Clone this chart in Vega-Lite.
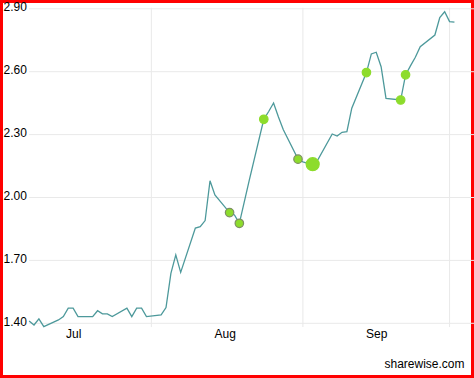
{
  "$schema": "https://vega.github.io/schema/vega-lite/v6.json",
  "width": 474,
  "height": 378,
  "autosize": {"type": "none"},
  "padding": 0,
  "background": "white",
  "config": {
    "view": {"stroke": "#ff0000", "strokeWidth": 6},
    "font": "Liberation Sans",
    "axis": {"grid": false, "ticks": false, "tickSize": 0, "domain": false, "labelFontSize": 12, "labelColor": "#000000", "labelOverlap": false, "labelFlush": false, "titleFontSize": 12, "titleFontWeight": "normal", "titleColor": "#000000"},
    "axisX": {"labelExpr": "utcFormat(datum.value, '%b')"}
  },
  "datasets": {
    "prices": [
      {"date": "2009-07-07", "price": 1.411},
      {"date": "2009-07-08", "price": 1.392},
      {"date": "2009-07-09", "price": 1.421},
      {"date": "2009-07-10", "price": 1.384},
      {"date": "2009-07-13", "price": 1.416},
      {"date": "2009-07-14", "price": 1.432},
      {"date": "2009-07-15", "price": 1.472},
      {"date": "2009-07-16", "price": 1.472},
      {"date": "2009-07-17", "price": 1.432},
      {"date": "2009-07-20", "price": 1.432},
      {"date": "2009-07-21", "price": 1.460},
      {"date": "2009-07-22", "price": 1.445},
      {"date": "2009-07-23", "price": 1.445},
      {"date": "2009-07-24", "price": 1.432},
      {"date": "2009-07-27", "price": 1.472},
      {"date": "2009-07-28", "price": 1.432},
      {"date": "2009-07-29", "price": 1.472},
      {"date": "2009-07-30", "price": 1.472},
      {"date": "2009-07-31", "price": 1.432},
      {"date": "2009-08-03", "price": 1.440},
      {"date": "2009-08-04", "price": 1.475},
      {"date": "2009-08-05", "price": 1.638},
      {"date": "2009-08-06", "price": 1.726},
      {"date": "2009-08-07", "price": 1.643},
      {"date": "2009-08-10", "price": 1.854},
      {"date": "2009-08-11", "price": 1.861},
      {"date": "2009-08-12", "price": 1.890},
      {"date": "2009-08-13", "price": 2.080},
      {"date": "2009-08-14", "price": 2.012},
      {"date": "2009-08-17", "price": 1.928},
      {"date": "2009-08-18", "price": 1.917},
      {"date": "2009-08-19", "price": 1.877},
      {"date": "2009-08-20", "price": 1.978},
      {"date": "2009-08-21", "price": 2.079},
      {"date": "2009-08-24", "price": 2.373},
      {"date": "2009-08-25", "price": 2.410},
      {"date": "2009-08-26", "price": 2.451},
      {"date": "2009-08-27", "price": 2.384},
      {"date": "2009-08-28", "price": 2.323},
      {"date": "2009-08-31", "price": 2.183},
      {"date": "2009-09-01", "price": 2.170},
      {"date": "2009-09-02", "price": 2.163},
      {"date": "2009-09-03", "price": 2.159},
      {"date": "2009-09-04", "price": 2.177},
      {"date": "2009-09-07", "price": 2.303},
      {"date": "2009-09-08", "price": 2.293},
      {"date": "2009-09-09", "price": 2.311},
      {"date": "2009-09-10", "price": 2.314},
      {"date": "2009-09-11", "price": 2.426},
      {"date": "2009-09-14", "price": 2.596},
      {"date": "2009-09-15", "price": 2.685},
      {"date": "2009-09-16", "price": 2.693},
      {"date": "2009-09-17", "price": 2.624},
      {"date": "2009-09-18", "price": 2.473},
      {"date": "2009-09-21", "price": 2.465},
      {"date": "2009-09-22", "price": 2.585},
      {"date": "2009-09-23", "price": 2.628},
      {"date": "2009-09-24", "price": 2.669},
      {"date": "2009-09-25", "price": 2.719},
      {"date": "2009-09-28", "price": 2.775},
      {"date": "2009-09-29", "price": 2.858},
      {"date": "2009-09-30", "price": 2.886},
      {"date": "2009-10-01", "price": 2.839},
      {"date": "2009-10-02", "price": 2.836}
    ],
    "signals": [
      {"date": "2009-08-17", "price": 1.928, "kind": "outlined", "weight": 1},
      {"date": "2009-08-19", "price": 1.877, "kind": "outlined", "weight": 1},
      {"date": "2009-08-24", "price": 2.373, "kind": "plain", "weight": 1},
      {"date": "2009-08-31", "price": 2.183, "kind": "outlined", "weight": 1},
      {"date": "2009-09-03", "price": 2.159, "kind": "plain", "weight": 2},
      {"date": "2009-09-14", "price": 2.596, "kind": "plain", "weight": 1},
      {"date": "2009-09-21", "price": 2.465, "kind": "plain", "weight": 1},
      {"date": "2009-09-22", "price": 2.585, "kind": "plain", "weight": 1}
    ],
    "yticks": [{"tick": 1.4}, {"tick": 1.7}, {"tick": 2.0}, {"tick": 2.3}, {"tick": 2.6}, {"tick": 2.9}],
    "months": [{"date": "2009-08-01"}, {"date": "2009-09-01"}, {"date": "2009-10-01"}]
  },
  "layer": [
    {
      "data": {"name": "yticks"},
      "mark": {"type": "rule", "color": "#e9e9e9", "strokeWidth": 1},
      "encoding": {
        "y": {
          "field": "tick",
          "type": "quantitative",
          "scale": {"domain": [1.1391, 2.942], "nice": false, "zero": false},
          "axis": {
            "orient": "left",
            "values": [1.4, 1.7, 2.0, 2.3, 2.6, 2.9],
            "format": ".2f",
            "labelAlign": "left",
            "labelBaseline": "alphabetic",
            "labelPadding": -3,
            "labelOffset": 2,
            "title": null
          }
        },
        "x": {
          "datum": {"year": 2009, "month": 7, "date": 7, "utc": true},
          "type": "temporal",
          "scale": {
            "type": "utc",
            "nice": false,
            "domain": [
              {"year": 2009, "month": 7, "date": 1, "hours": 1, "utc": true},
              {"year": 2009, "month": 10, "date": 6, "utc": true}
            ]
          },
          "axis": {
            "orient": "bottom",
            "offset": -51,
            "values": [
              {"year": 2009, "month": 7, "date": 16, "utc": true},
              {"year": 2009, "month": 8, "date": 16, "utc": true},
              {"year": 2009, "month": 9, "date": 16, "utc": true}
            ],
            "labelExpr": "utcFormat(datum.value, '%b')",
            "labelPadding": 1,
            "title": "sharewise.com",
            "titleAlign": "right",
            "titleAnchor": "end",
            "titleBaseline": "alphabetic",
            "titleX": 464,
            "titleY": 40
          }
        },
        "x2": {"datum": {"year": 2009, "month": 10, "date": 6, "utc": true}}
      }
    },
    {
      "data": {"name": "months"},
      "mark": {"type": "rule", "color": "#e9e9e9", "strokeWidth": 1},
      "encoding": {
        "x": {"field": "date", "type": "temporal"},
        "y": {"datum": 2.905, "type": "quantitative"},
        "y2": {"datum": 1.382}
      }
    },
    {
      "data": {"name": "prices"},
      "mark": {"type": "line", "color": "#4d999b", "strokeWidth": 1.3},
      "encoding": {
        "x": {"field": "date", "type": "temporal"},
        "y": {"field": "price", "type": "quantitative"}
      }
    },
    {
      "data": {"name": "signals"},
      "mark": {"type": "circle", "opacity": 1, "fill": "#8ddc2c", "strokeWidth": 1.2},
      "encoding": {
        "x": {"field": "date", "type": "temporal"},
        "y": {"field": "price", "type": "quantitative"},
        "stroke": {"field": "kind", "type": "nominal", "scale": {"domain": ["plain", "outlined"], "range": ["#8ddc2c", "#7d8f63"]}, "legend": null},
        "size": {"field": "weight", "type": "quantitative", "scale": {"domain": [1, 2], "range": [72, 170]}, "legend": null}
      }
    }
  ]
}
